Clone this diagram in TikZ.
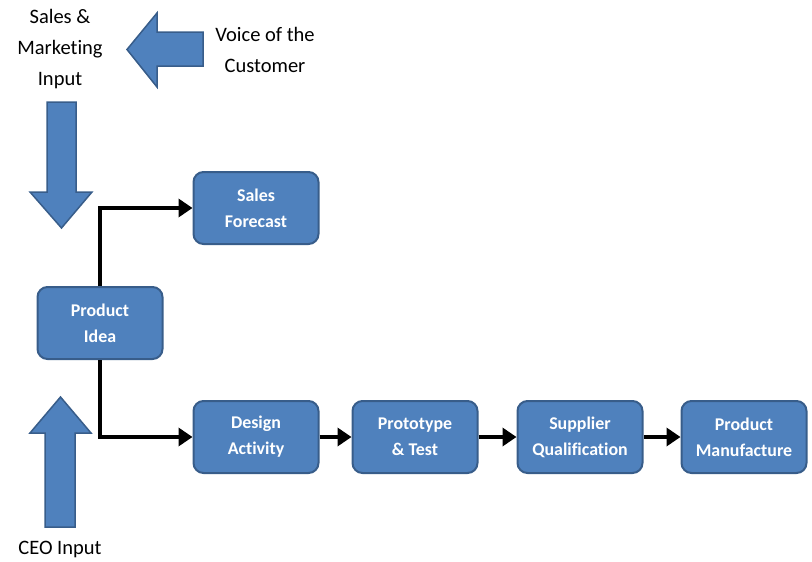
\documentclass[tikz,border=0pt]{standalone}
\usepackage{fontspec}
\setmainfont{Carlito}[Ligatures=NoCommon]
\usetikzlibrary{arrows.meta}
\definecolor{boxfill}{HTML}{4F81BD}
\definecolor{boxline}{HTML}{385D8A}
\begin{document}
\begin{tikzpicture}[x=1pt,y=-1pt,
  stepbox/.style={draw=boxline, fill=boxfill, line width=2pt, rounded corners=10pt,
    minimum width=125pt, minimum height=72pt, text=white, align=center,
    font=\fontsize{17.9}{26}\selectfont\bfseries},
  lbl/.style={align=center, font=\fontsize{20.5}{31}\selectfont, inner sep=0pt},
  blockarrow/.style={draw=boxline, fill=boxfill, line width=1.5pt, line join=miter},
  conn/.style={line width=4pt, -{Triangle[length=14pt,width=18pt]}}]
\useasboundingbox (0,0) rectangle (812,562);
\node[stepbox] (sf) at (256,208) {Sales\\Forecast};
\node[stepbox] (pi) at (100,323) {Product\\Idea};
\node[stepbox] (da) at (256,437) {Design\\Activity};
\node[stepbox] (pt) at (415,437) {Prototype\\\& Test};
\node[stepbox] (sq) at (580,437) {Supplier\\Qualification};
\node[stepbox] (pm) at (744,437) {Product\\Manufacture};
\node[lbl] (smi) at (60,49) {Sales \&\\Marketing\\Input};
\node[lbl] (voc) at (265,50) {Voice of the\\Customer};
\node[lbl] (ceo) at (60,549) {CEO Input};
\draw[blockarrow] (47,102) -- (76,102) -- (76,192) -- (92,192) -- (61.5,228) -- (30,192) -- (47,192) -- cycle;
\draw[blockarrow] (203,32) -- (157,32) -- (157,13) -- (127,49.5) -- (157,87) -- (157,66) -- (203,66) -- cycle;
\draw[blockarrow] (45,527) -- (75,527) -- (75,433) -- (91,433) -- (60.5,397) -- (30,433) -- (45,433) -- cycle;
\draw[conn] (pi.north) |- (sf.west);
\draw[conn] (pi.south) |- (da.west);
\draw[conn] (da) -- (pt);
\draw[conn] (pt) -- (sq);
\draw[conn] (sq) -- (pm);
\end{tikzpicture}
\end{document}
